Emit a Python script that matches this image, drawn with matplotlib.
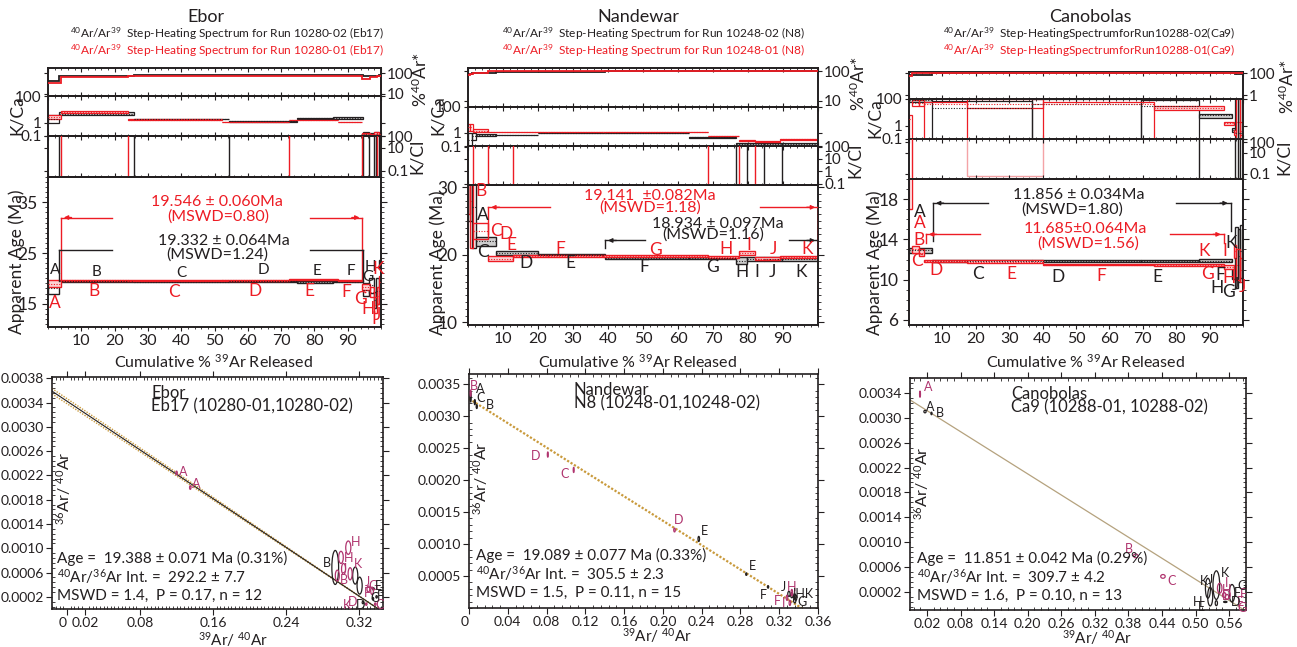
import numpy as np
import matplotlib
matplotlib.use("Agg")
import matplotlib.pyplot as plt
from matplotlib.patches import Rectangle, Ellipse
from matplotlib.ticker import FixedLocator, NullLocator, MultipleLocator, AutoMinorLocator

plt.rcParams['font.family'] = ['Lato', 'DejaVu Sans']
plt.rcParams['mathtext.fontset'] = 'custom'
plt.rcParams['mathtext.rm'] = 'Lato'
plt.rcParams['mathtext.it'] = 'Lato:italic'
plt.rcParams['mathtext.bf'] = 'Lato:bold'

# ======================= DATA =======================
H_, L_ = 1e4, 1e-4   # K/Cl off-scale high / low

# ---------- Ebor (Eb17) ----------
eb_b_edges = [0, 3.3, 25.7, 54.4, 74.8, 85.7, 94.7, 96.5, 97.8, 98.6, 99.3, 100]
eb_b_age = [18.1, 19.4, 19.3, 19.4, 19.3, 19.35, 17.8, 18.6, 15.8, 17.5, 22.8]
eb_b_err = [1.2, 0.12, 0.08, 0.1, 0.12, 0.12, 1.2, 1.5, 1.6, 2.5, 0.8]
eb_b_ar = [42, 72, 80, 80, 80, 80, 75, 72, 70, 75, 80]
eb_b_kca = [2.0, 4.7, 1.9, 1.25, 2.2, 2.3, 0.15, 0.12, 0.12, 0.13, 0.12]
eb_b_kca_lo = [1.0, 3.8, 1.8, 1.2, 2.05, 1.9, 0.11, 0.08, 0.06, 0.07, 0.08]
eb_b_kca_hi = [4.0, 5.8, 2.0, 1.3, 2.35, 2.7, 0.2, 0.18, 0.2, 0.2, 0.16]
eb_b_kcl = [L_, H_, L_, H_, H_, H_, L_, H_, L_, H_, L_]

eb_r_edges = [0, 3.9, 24.1, 52.4, 72.4, 87.0, 94.4, 96.8, 97.9, 98.7, 99.4, 100]
eb_r_age = [18.9, 19.65, 19.55, 19.6, 19.7, 19.55, 18.3, 17.3, 14.8, 16.6, 19.2]
eb_r_err = [0.7, 0.1, 0.08, 0.1, 0.12, 0.12, 0.6, 0.9, 1.6, 1.6, 1.2]
eb_r_ar = [32, 67, 74, 75, 75, 75, 55, 65, 65, 70, 75]
eb_r_kca = [2.6, 6.2, 1.7, 1.1, 1.6, 1.1, 0.14, 0.12, 0.13, 0.14, 0.13]
eb_r_kca_lo = [1.8, 5.2, 1.6, 1.05, 1.5, 1.05, 0.11, 0.09, 0.08, 0.09, 0.09]
eb_r_kca_hi = [3.5, 7.2, 1.8, 1.15, 1.7, 1.15, 0.17, 0.15, 0.19, 0.2, 0.17]
eb_r_kcl = [H_, L_, H_, H_, L_, L_, H_, H_, H_, L_, L_]

eb_plateau_r = dict(age='19.546 ± 0.060Ma', mswd='(MSWD=0.80)', x0=3.9, x1=94.4, y=32.0)
eb_plateau_b = dict(age='19.332 ± 0.064Ma', mswd='(MSWD=1.24)', x0=3.3, x1=94.7, y=25.6)

# ---------- Nandewar (N8) ----------
nd_b_edges = [0, 1.2, 2.3, 8.1, 20.0, 39.2, 63.2, 76.5, 79.8, 84.5, 89.8, 100]
nd_b_age = [34, 27, 21.95, 20.25, 19.95, 19.5, 19.55, 19.1, 19.35, 19.3, 19.3]
nd_b_err = [9, 6, 0.65, 0.3, 0.15, 0.12, 0.15, 0.55, 0.3, 0.3, 0.2]
nd_b_ar = [80, 85, 90, 97, 97, 99, 99, 99, 99, 99, 99]
nd_b_kca = [0.3, 0.6, 0.7, 0.7, 1.0, 1.0, 0.47, 0.14, 0.14, 0.14, 0.14]
nd_b_kca_lo = [0.1, 0.3, 0.6, 0.65, 0.95, 0.95, 0.44, 0.12, 0.12, 0.12, 0.12]
nd_b_kca_hi = [1.0, 1.0, 0.8, 0.75, 1.05, 1.05, 0.5, 0.16, 0.16, 0.16, 0.16]
nd_b_kcl = [H_, H_, H_, H_, H_, H_, H_, L_, H_, L_, H_]

nd_r_edges = [0, 0.7, 1.4, 5.8, 12.8, 22.8, 38.7, 68.6, 77.5, 82.0, 89.0, 100]
nd_r_age = [36, 28, 23.5, 19.4, 19.75, 19.8, 19.8, 19.65, 20.3, 19.4, 19.6]
nd_r_err = [10, 7, 1.2, 0.4, 0.15, 0.1, 0.08, 0.2, 0.3, 0.2, 0.15]
nd_r_ar = [75, 80, 91, 99, 99, 99, 99, 99, 99, 99, 99]
nd_r_kca = [3.0, 3.0, 1.5, 1.25, 1.25, 1.25, 1.25, 0.59, 0.26, 0.21, 0.32]
nd_r_kca_lo = [1.5, 1.5, 1.2, 1.2, 1.2, 1.2, 1.2, 0.55, 0.24, 0.2, 0.3]
nd_r_kca_hi = [5.0, 5.0, 2.0, 1.3, 1.3, 1.3, 1.3, 0.63, 0.28, 0.23, 0.34]
nd_r_kcl = [H_, H_, L_, H_, L_, L_, L_, H_, L_, H_, H_]

nd_plateau_r = dict(age='19.141  ±0.082Ma', mswd='(MSWD=1.18)', x0=5.8, x1=100, y=27.0)
nd_plateau_b = dict(age='18.934 ± 0.097Ma', mswd='(MSWD=1.16)', x0=39.2, x1=100, y=22.1)

# ---------- Canobolas (Ca9) ----------
cb_b_edges = [0, 6.9, 36.7, 69.4, 86.9, 96.6, 97.6, 98.4, 99.2, 100]
cb_b_age = [12.9, 11.88, 11.88, 11.9, 11.9, 10.7, 12.2, 12.4, 12.8]
cb_b_err = [0.25, 0.08, 0.1, 0.1, 0.12, 0.6, 3.0, 2.6, 2.6]
cb_b_ar = [70, 99, 99, 99, 99, 95, 90, 90, 90]
cb_b_kca = [90, 23, 42, 31, 6.0, 0.5, 0.3, 0.3, 0.3]
cb_b_kca_lo = [60, 0.05, 0.05, 0.05, 4.0, 0.35, 0.01, 0.01, 0.01]
cb_b_kca_hi = [110, 75, 100, 90, 8.0, 0.7, 1e3, 1e3, 1e3]
cb_b_kcl = [H_, H_, H_, H_, L_, L_, H_, L_, H_]

cb_r_edges = [0, 0.9, 3.0, 4.5, 17.4, 40.1, 73.5, 94.2, 97.2, 98.0, 99.2, 100]
cb_r_age = [25, 13.0, 12.7, 11.85, 11.8, 11.5, 11.45, 11.25, 12.8, 11.5, 11.0]
cb_r_err = [8, 0.35, 0.3, 0.1, 0.12, 0.08, 0.12, 0.2, 0.6, 1.5, 1.2]
cb_r_ar = [60, 95, 97, 99, 99, 99, 99, 99, 95, 95, 95]
cb_r_kca = [3.0, 50, 50, 40, 42, 42, 23, 1.5, 0.35, 2.0, 0.4]
cb_r_kca_lo = [0.01, 30, 30, 0.05, 20, 0.05, 15, 1.2, 0.2, 0.05, 0.2]
cb_r_kca_hi = [6.0, 80, 80, 56, 100, 56, 30, 2.0, 0.5, 100, 2.0]
cb_r_kcl = [H_, L_, L_, L_, L_, L_, L_, L_, L_, L_, L_]
cb_r_kcl_box = [np.nan, np.nan, np.nan, np.nan, 0.06, np.nan, np.nan, np.nan, np.nan, np.nan, np.nan]

cb_plateau_b = dict(age='11.856 ± 0.034Ma', mswd='(MSWD=1.80)', x0=7.2, x1=96.3, y=17.6)
cb_plateau_r = dict(age='11.685±0.064Ma', mswd='(MSWD=1.56)', x0=5.1, x1=94.2, y=14.5)

# ---------- Isochrons ----------
iso_trapped = [292.2, 305.5, 309.7]          # 40Ar/36Ar intercepts
iso_xint = [0.341, 0.343, 0.571]             # 39Ar/40Ar intercepts

eb_i1_x = [0.120, 0.135, 0.308, 0.300, 0.3028, 0.296, 0.310, 0.330, 0.334, 0.3277, 0.3375]
eb_i1_y = [0.00224, 0.00200, 0.00101, 0.00085, 0.00066, 0.00055, 0.00058, 0.00033, 0.00030, 0.00008, 0.00008]
eb_i1_sx = [0.0008, 0.0008, 0.0028, 0.0025, 0.0022, 0.0022, 0.0022, 0.0015, 0.0015, 0.0008, 0.0008]
eb_i1_sy = [0.00003, 0.00003, 0.00011, 0.00010, 0.00009, 0.00009, 0.00010, 0.00005, 0.00006, 0.00002, 0.00002]
eb_i2_x = [0.2937, 0.3156, 0.3204, 0.324, 0.335, 0.3356, 0.339]
eb_i2_y = [0.000684, 0.00055, 0.000385, 0.000107, 0.00017, 0.00033, 0.0002]
eb_i2_sx = [0.0037, 0.0028, 0.0028, 0.0008, 0.0008, 0.0008, 0.0008]
eb_i2_sy = [0.00028, 0.00014, 0.00014, 0.00002, 0.00002, 0.00002, 0.00002]

nd_i1_x = [0.0017, 0.0813, 0.108, 0.212, 0.328, 0.331, 0.333]
nd_i1_y = [0.00336, 0.0024, 0.00216, 0.00122, 0.00016, 0.00008, 0.00024]
nd_i1_sx = [0.0005, 0.0005, 0.0005, 0.0008, 0.0008, 0.0008, 0.0008]
nd_i1_sy = [0.00005, 0.00004, 0.00004, 0.00003, 0.00004, 0.00004, 0.00005]
nd_i2_x = [0.0017, 0.006, 0.008, 0.237, 0.286, 0.3085, 0.330, 0.333, 0.336, 0.337, 0.336]
nd_i2_y = [0.00330, 0.00322, 0.00315, 0.00108, 0.00053, 0.00033, 0.00022, 0.00020, 0.00018, 0.00016, 0.00012]
nd_i2_sx = [0.0006, 0.0006, 0.0006, 0.0008, 0.0006, 0.0006, 0.0012, 0.0012, 0.0012, 0.0012, 0.0012]
nd_i2_sy = [0.00008, 0.00004, 0.00003, 0.00004, 0.00002, 0.00002, 0.00004, 0.00004, 0.00004, 0.00004, 0.00004]

cb_i1_x = [0.0075, 0.393, 0.4416, 0.543, 0.551, 0.556]
cb_i1_y = [0.00338, 0.00078, 0.00045, 0.00026, 0.00015, 0.00012]
cb_i1_sx = [0.0008, 0.004, 0.004, 0.004, 0.003, 0.003]
cb_i1_sy = [0.00005, 0.00003, 0.00003, 0.00008, 0.00004, 0.00004]
cb_i2_x = [0.0164, 0.028, 0.522, 0.537, 0.526, 0.565, 0.537, 0.553]
cb_i2_y = [0.0031, 0.00307, 0.00026, 0.00031, 0.000125, 0.00018, 0.00002, 0.00004]
cb_i2_sx = [0.002, 0.001, 0.0045, 0.006, 0.0045, 0.005, 0.002, 0.003]
cb_i2_sy = [0.00002, 0.00002, 0.00016, 0.00023, 0.00015, 0.00014, 0.00004, 0.00001]

# ======================= HELPERS =======================
W, H = 1297, 647
fig = plt.figure(figsize=(W / 100, H / 100), dpi=100)
BLK = '#231f20'
GFC = '#cfcfcf'
RED = '#ed1c24'
PNK = '#f4a3a6'
PFC = '#fbd3d5'
MAG = '#b0356f'
TAN = '#c99a3c'


def px_axes(l, t, r, b):
    return fig.add_axes([l / W, 1 - b / H, (r - l) / W, (b - t) / H])


def ftext(x, y, s, **kw):
    kw.setdefault('ha', 'center')
    kw.setdefault('va', 'center')
    return fig.text(x / W, 1 - y / H, s, **kw)


def style_spines(ax, lw=1.4):
    for s in ax.spines.values():
        s.set_linewidth(lw)
        s.set_color(BLK)


def log_axis(ax, ylim, ticks, side):
    ax.set_yscale('log')
    ax.set_ylim(*ylim)
    ax.yaxis.set_major_locator(FixedLocator(ticks))
    ax.yaxis.set_minor_locator(NullLocator())
    ax.set_yticklabels([f'{t:g}' for t in ticks])
    ax.tick_params(axis='y', left=True, right=True, labelleft=(side == 'left'),
                   labelright=(side == 'right'), direction='out', length=3,
                   labelsize=11, pad=1.5, colors=BLK)


def boxes(ax, edges, val, lo, hi, ec, fc, lw=0.9, dotted=True, log=False, fill_max=2.0):
    for i in range(len(val)):
        e0, e1 = edges[i], edges[i + 1]
        size = hi[i] / lo[i] if log else hi[i] - lo[i]
        face = fc if size <= fill_max else 'none'
        ax.add_patch(Rectangle((e0, lo[i]), e1 - e0, hi[i] - lo[i], fc=face, ec=ec, lw=lw, zorder=2))
        if dotted:
            ax.hlines(val[i], e0, e1, colors=ec, linestyles=(0, (1, 1.4)), lw=0.8, zorder=3)


def bracket(ax, p, color, arrows, gap0, gap1, drop0, drop1):
    y = p['y']
    ax.plot([p['x0'], gap0], [y, y], color=color, lw=1.0, zorder=4)
    ax.plot([gap1, p['x1']], [y, y], color=color, lw=1.0, zorder=4)
    ax.plot([p['x0'], p['x0']], [y, drop0], color=color, lw=1.0, zorder=4)
    ax.plot([p['x1'], p['x1']], [y, drop1], color=color, lw=1.0, zorder=4)
    if arrows:
        ax.annotate('', xy=(p['x0'], y), xytext=(p['x0'] + 4, y),
                    arrowprops=dict(arrowstyle='-|>', color=color, lw=1.0, mutation_scale=6), zorder=4)
        ax.annotate('', xy=(p['x1'], y), xytext=(p['x1'] - 4, y),
                    arrowprops=dict(arrowstyle='-|>', color=color, lw=1.0, mutation_scale=6), zorder=4)


def spectrum_column(xl, xr, tops, run_b, run_r, ar_lim, ar_ticks, kcl_lim, kcl_ticks,
                    age_lim, age_ticks):
    t0, t1, t2, t3, t4 = tops
    ax_ar = px_axes(xl, t0, xr, t1)
    ax_kca = px_axes(xl, t1, xr, t2)
    ax_kcl = px_axes(xl, t2, xr, t3)
    ax_age = px_axes(xl, t3, xr, t4)
    for ax in (ax_ar, ax_kca, ax_kcl, ax_age):
        ax.set_xlim(0, 100)
        style_spines(ax)
        ax.set_facecolor('none')
        ax.xaxis.set_major_locator(MultipleLocator(10))
        ax.xaxis.set_minor_locator(MultipleLocator(2))
        ax.tick_params(axis='x', which='both', bottom=True, top=True, direction='in',
                       labelbottom=False, length=3, colors=BLK)
        ax.tick_params(axis='x', which='minor', length=1.5)
    # %40Ar*
    log_axis(ax_ar, ar_lim, ar_ticks, 'right')
    for run, col in ((run_b, BLK), (run_r, RED)):
        ax_ar.stairs(run['ar'], run['edges'], baseline=None, color=col, lw=1.3, zorder=3)
    # K/Ca
    log_axis(ax_kca, (0.1, 100), [0.1, 1, 100], 'left')
    for run, ec, fc in ((run_b, BLK, GFC), (run_r, RED, PFC)):
        boxes(ax_kca, run['edges'], run['kca'], run['kca_lo'], run['kca_hi'], ec, fc, lw=0.9,
              log=True, fill_max=2.5)
    # K/Cl
    log_axis(ax_kcl, kcl_lim, kcl_ticks, 'right')
    for run, col in ((run_b, BLK), (run_r, RED)):
        ax_kcl.stairs(run['kcl'], run['edges'], baseline=None, color=col, lw=1.0, zorder=3)
        if 'kcl_box' in run:
            for i, lo in enumerate(run['kcl_box']):
                if not np.isnan(lo):
                    e0, e1 = run['edges'][i], run['edges'][i + 1]
                    ax_kcl.add_patch(Rectangle((e0, lo), e1 - e0, 1e4, fc='none', ec=PNK, lw=1.0))
    # Age
    ax_age.set_ylim(*age_lim)
    ax_age.yaxis.set_major_locator(FixedLocator(age_ticks))
    ax_age.yaxis.set_minor_locator(MultipleLocator(1))
    ax_age.tick_params(axis='y', which='both', left=True, right=True, direction='out',
                       labelsize=12.5, length=4, colors=BLK)
    ax_age.tick_params(axis='y', which='minor', length=2)
    ax_age.tick_params(axis='x', which='both', labelbottom=True, direction='out', labelsize=11.5,
                       top=False, pad=2)
    ax_age.set_xticks(range(10, 100, 10))
    for run, ec, fc in ((run_b, BLK, GFC), (run_r, RED, PFC)):
        a = np.array(run['age'])
        e = np.array(run['err'])
        boxes(ax_age, run['edges'], a, a - e, a + e, ec, fc, lw=1.0, fill_max=1.5)
    return ax_ar, ax_kca, ax_kcl, ax_age


def run(edges, age, err, ar, kca, lo, hi, kcl, **kw):
    d = dict(edges=edges, age=age, err=err, ar=ar, kca=kca, kca_lo=lo, kca_hi=hi, kcl=kcl)
    d.update(kw)
    return d


def step_labels(ax, labels, color, size=12):
    for s, x, y in labels:
        ax.text(x, y, s, color=color, fontsize=size, ha='center', va='center', zorder=6)


# ======================= TITLES =======================
def titles(cx, name, run2, run1, x_start):
    ftext(cx, 17, name, fontsize=13, color=BLK)
    ftext(x_start, 34, r'$^{40}$Ar/Ar$^{39}$  ' + run2, fontsize=8.6, color=BLK, ha='left')
    ftext(x_start, 51, r'$^{40}$Ar/Ar$^{39}$  ' + run1, fontsize=8.6, color=RED, ha='left')


titles(206, 'Ebor', 'Step-Heating Spectrum for Run 10280-02 (Eb17)',
       'Step-Heating Spectrum for Run 10280-01 (Eb17)', 70)
titles(638, 'Nandewar', 'Step-Heating Spectrum for Run 10248-02 (N8)',
       'Step-Heating Spectrum for Run 10248-01 (N8)', 502)
titles(1090, 'Canobolas', 'Step-HeatingSpectrumforRun10288-02(Ca9)',
       'Step-HeatingSpectrumforRun10288-01(Ca9)', 943)

# ======================= SPECTRA =======================
PFS = 11.5
# Ebor
axs = spectrum_column(48, 381, (68, 96, 136, 177, 327),
                      run(eb_b_edges, eb_b_age, eb_b_err, eb_b_ar, eb_b_kca, eb_b_kca_lo, eb_b_kca_hi, eb_b_kcl),
                      run(eb_r_edges, eb_r_age, eb_r_err, eb_r_ar, eb_r_kca, eb_r_kca_lo, eb_r_kca_hi, eb_r_kcl),
                      (8, 175), [10, 100], (0.03, 100), [0.1, 10, 100], (10.4, 40), [15, 25, 35])
ax = axs[3]
bracket(ax, eb_plateau_r, RED, True, 19.2, 78.7, 19.8, 19.8)
bracket(ax, eb_plateau_b, BLK, False, 19.2, 78.7, 19.5, 19.5)
ax.text(50.8, 35.0, eb_plateau_r['age'], color=RED, fontsize=PFS, ha='center', va='center')
ax.text(51.0, 32.1, eb_plateau_r['mswd'], color=RED, fontsize=PFS, ha='center', va='center')
ax.text(52.7, 27.3, eb_plateau_b['age'], color=BLK, fontsize=PFS, ha='center', va='center')
ax.text(50.8, 24.7, eb_plateau_b['mswd'], color=BLK, fontsize=PFS, ha='center', va='center')
step_labels(ax, [('A', 2.2, 21.6), ('B', 14.5, 21.3), ('C', 40, 21.0), ('D', 64.6, 21.6),
                 ('E', 80.7, 21.4), ('F', 91, 21.4), ('G', 96.1, 20.3), ('H', 96.7, 22.2)], BLK, 11)
step_labels(ax, [('A', 2.2, 15.1), ('B', 13.7, 17.6), ('C', 37.7, 17.3), ('D', 62.2, 17.6),
                 ('E', 78.5, 17.6), ('F', 89.5, 17.3), ('G', 93.7, 15.9), ('H', 96.0, 14.0),
                 ('I', 97.7, 11.9), ('J', 99.0, 12.8), ('K', 99.2, 21.8)], RED, 12.5)

# Nandewar
axs = spectrum_column(468, 818, (68, 107, 146, 185, 325),
                      run(nd_b_edges, nd_b_age, nd_b_err, nd_b_ar, nd_b_kca, nd_b_kca_lo, nd_b_kca_hi, nd_b_kcl),
                      run(nd_r_edges, nd_r_age, nd_r_err, nd_r_ar, nd_r_kca, nd_r_kca_lo, nd_r_kca_hi, nd_r_kcl),
                      (6, 130), [10, 100], (0.08, 110), [0.1, 1, 10, 100], (9.6, 30.3), [10, 20, 30])
ax = axs[3]
bracket(ax, nd_plateau_r, RED, True, 23.3, 83.4, 23.0, 19.8)
bracket(ax, nd_plateau_b, BLK, True, 50.6, 91.8, 21.0, 19.5)
ax.text(52.0, 28.6, nd_plateau_r['age'], color=RED, fontsize=PFS, ha='center', va='center')
ax.text(52.0, 26.9, nd_plateau_r['mswd'], color=RED, fontsize=PFS, ha='center', va='center')
ax.text(71.3, 24.6, nd_plateau_b['age'], color=BLK, fontsize=PFS, ha='center', va='center')
ax.text(70.0, 23.0, nd_plateau_b['mswd'], color=BLK, fontsize=PFS, ha='center', va='center')
step_labels(ax, [('A', 4.2, 25.9), ('C', 4.2, 20.45), ('D', 16.7, 18.7), ('E', 29.2, 18.7),
                 ('F', 50.3, 18.2), ('G', 69.9, 18.2), ('H', 78.4, 17.4), ('I', 82.4, 17.5),
                 ('J', 87.0, 17.5), ('K', 95.3, 17.5)], BLK, 12.5)
step_labels(ax, [('B', 3.7, 29.4), ('C', 8.1, 23.5), ('D', 10.9, 23.0), ('E', 12.4, 21.5),
                 ('F', 26.3, 20.9), ('G', 53.6, 20.7), ('H', 73.8, 20.9), ('I', 80.3, 21.5),
                 ('J', 87.2, 20.9), ('K', 96.8, 20.9)], RED, 12.5)

# Canobolas
axs = spectrum_column(909, 1243, (72, 99, 139, 179, 325),
                      run(cb_b_edges, cb_b_age, cb_b_err, cb_b_ar, cb_b_kca, cb_b_kca_lo, cb_b_kca_hi, cb_b_kcl),
                      run(cb_r_edges, cb_r_age, cb_r_err, cb_r_ar, cb_r_kca, cb_r_kca_lo, cb_r_kca_hi, cb_r_kcl,
                          kcl_box=cb_r_kcl_box),
                      (0.45, 130), [1, 100], (0.03, 200), [0.1, 10, 100], (5.5, 20), [6, 10, 14, 18])
ax = axs[3]
bracket(ax, cb_plateau_b, BLK, True, 23.7, 80.0, 13.8, 14.8)
bracket(ax, cb_plateau_r, RED, True, 21.2, 78.0, 13.6, 13.6)
ax.text(50.8, 18.4, cb_plateau_b['age'], color=BLK, fontsize=PFS, ha='center', va='center')
ax.text(49.0, 17.0, cb_plateau_b['mswd'], color=BLK, fontsize=PFS, ha='center', va='center')
ax.text(52.7, 15.0, cb_plateau_r['age'], color=RED, fontsize=PFS, ha='center', va='center')
ax.text(53.6, 13.6, cb_plateau_r['mswd'], color=RED, fontsize=PFS, ha='center', va='center')
step_labels(ax, [('A', 3.1, 16.7), ('C', 20.7, 10.55), ('D', 44.5, 10.3), ('E', 74.4, 10.3),
                 ('F', 93.1, 10.45), ('G', 95.6, 8.8), ('H', 92.1, 9.2), ('J', 97.6, 9.5),
                 ('K', 96.3, 13.6)], BLK, 12.5)
step_labels(ax, [('A', 3.1, 15.6), ('B', 3.0, 13.9), ('C', 2.5, 11.9), ('D', 8.1, 11.0),
                 ('E', 30.7, 10.6), ('F', 57.6, 10.4), ('G', 89.5, 10.6), ('H', 95.7, 10.2),
                 ('I', 94.6, 12.8), ('J', 99.8, 9.3), ('K', 88.3, 12.8)], RED, 12.5)

# side labels of the spectra
for xl, yk, ya, yar, ykcl, xr_lab in ((17, 115, 262, 80, 156, 420),
                                      (438, 115, 263, 84, 160, 858),
                                      (875, 118, 263, 87, 157, 1287)):
    ftext(xl, yk, 'K/Ca', fontsize=12.5, rotation=90, color=BLK)
    ftext(xl, ya, 'Apparent Age (Ma)', fontsize=12.5, rotation=90, color=BLK)
    ftext(xr_lab, yar, r'%$^{40}$Ar*', fontsize=12.5, rotation=90, color=BLK)
    ftext(xr_lab - 3, ykcl, 'K/Cl', fontsize=12.5, rotation=90, color=BLK)

for cx in (213, 637, 1085):
    ftext(cx, 362, r'Cumulative % $^{39}$Ar Released', fontsize=11.5, color=BLK)


# ======================= ISOCHRONS =======================
def isochron(box, xlim, ylim, xticks, yticks, k, pts1, pts2, lab1, lab2, title, sub, stats,
             txt_xy, line_style, ylab_xy, xlab_xy):
    ax = px_axes(*box)
    style_spines(ax, 1.2)
    ax.set_xlim(*xlim)
    ax.set_ylim(*ylim)
    ax.xaxis.set_major_locator(FixedLocator(xticks))
    ax.set_xticklabels(['0' if t == 0 else f'{t:.2f}' for t in xticks])
    ax.yaxis.set_major_locator(FixedLocator(yticks))
    ax.set_yticklabels([f'{t:.4f}' for t in yticks])
    ax.xaxis.set_minor_locator(AutoMinorLocator(5))
    ax.yaxis.set_minor_locator(AutoMinorLocator(5))
    ax.tick_params(which='both', top=True, right=True, direction='in', colors=BLK)
    ax.tick_params(which='major', length=4, labelsize=10)
    ax.tick_params(which='minor', length=2)
    ax.tick_params(axis='both', which='major', direction='out', pad=2)
    for lab, t in zip(ax.get_xticklabels(), xticks):
        if t == 0:
            lab.set_ha('right')
    b0 = 1.0 / iso_trapped[k]
    xx = np.linspace(xlim[0], xlim[1], 200)
    yy = b0 * (1 - xx / iso_xint[k])
    if line_style == 'env':
        ax.plot(xx, yy * 1.012, color=TAN, lw=1.0, ls=(0, (1, 1)))
        ax.plot(xx, yy * 0.988, color=TAN, lw=1.0, ls=(0, (1, 1)))
        ax.plot(xx, yy, color=BLK, lw=0.8)
    elif line_style == 'dot':
        ax.plot(xx, yy, color=TAN, lw=1.6, ls=(0, (1, 0.8)))
    else:
        ax.plot(xx, yy, color='#b5a27e', lw=0.9)
    for (xs, ys, sxs, sys_), col in ((pts2, BLK), (pts1, MAG)):
        for x, y, sx, sy in zip(xs, ys, sxs, sys_):
            ax.add_patch(Ellipse((x, y), 2 * sx, 2 * sy, fc='none', ec=col, lw=0.9, zorder=4))
    for labs, col in ((lab1, MAG), (lab2, BLK)):
        for s, x, y in labs:
            ax.text(x, y, s, color=col, fontsize=9, ha='center', va='center', zorder=5)
    ax.text(0.30, 0.965, title, transform=ax.transAxes, fontsize=12, color=BLK, va='top', ha='left')
    ax.text(0.30, 0.91, sub, transform=ax.transAxes, fontsize=12, color=BLK, va='top', ha='left')
    tx, ty = txt_xy
    for i, s in enumerate(stats):
        ftext(tx, ty + 19 * i, s, fontsize=11, color=BLK, ha='left')
    ftext(ylab_xy[0], ylab_xy[1], r'$^{36}$Ar/ $^{40}$Ar', fontsize=11.5, rotation=90, color=BLK)
    ftext(xlab_xy[0], xlab_xy[1], r'$^{39}$Ar/ $^{40}$Ar', fontsize=11, color=BLK)
    return ax


isochron((52, 377, 383, 609), (-0.0164, 0.346), (0, 0.00382),
         [0, 0.02, 0.08, 0.16, 0.24, 0.32], np.arange(0.0002, 0.0039, 0.0004), 0,
         (eb_i1_x, eb_i1_y, eb_i1_sx, eb_i1_sy), (eb_i2_x, eb_i2_y, eb_i2_sx, eb_i2_sy),
         [('A', 0.1275, 0.00225), ('A', 0.1414, 0.00206), ('H', 0.3156, 0.0011), ('H', 0.308, 0.00084),
          ('J', 0.304, 0.00066), ('B', 0.3028, 0.00048), ('K', 0.319, 0.00074), ('J', 0.3295, 0.00044),
          ('G', 0.335, 0.00038), ('F', 0.3285, 0.00026), ('K', 0.3065, 0.00006), ('D', 0.313, 0.00012),
          ('C', 0.342, 0.00007)],
         [('B', 0.2846, 0.00076), ('D', 0.321, 0.00006), ('C', 0.3364, 0.00018), ('F', 0.343, 0.00022),
          ('E', 0.341, 0.00038)],
         'Ebor', 'Eb17 (10280-01,10280-02)',
         ['Age =  19.388 ± 0.071 Ma (0.31%)', r'$^{40}$Ar/$^{36}$Ar Int. =  292.2 ± 7.7',
          'MSWD = 1.4,  P = 0.17, n = 12'], (57, 558), 'env', (64, 488), (233, 640))

isochron((469, 374, 818, 608), (0, 0.36), (0, 0.00366),
         list(np.round(np.arange(0, 0.361, 0.04), 2)), np.arange(0.0005, 0.0036, 0.0005), 1,
         (nd_i1_x, nd_i1_y, nd_i1_sx, nd_i1_sy), (nd_i2_x, nd_i2_y, nd_i2_sx, nd_i2_sy),
         [('B', 0.0052, 0.00347), ('D', 0.0692, 0.00237), ('C', 0.0986, 0.0021), ('D', 0.216, 0.00138),
          ('H', 0.3327, 0.00033), ('F', 0.318, 0.00011), ('I', 0.3244, 0.00008)],
         [('A', 0.0111, 0.00342), ('C', 0.0121, 0.00328), ('B', 0.0215, 0.00318), ('E', 0.2428, 0.0012),
          ('E', 0.292, 0.00065), ('F', 0.3033, 0.0002), ('J', 0.3244, 0.00033), ('IHK', 0.3445, 0.00022),
          ('G', 0.343, 0.0001)],
         'Nandewar', 'N8 (10248-01,10248-02)',
         ['Age =  19.089 ± 0.077 Ma (0.33%)', r'$^{40}$Ar/$^{36}$Ar Int. =  305.5 ± 2.3',
          'MSWD = 1.5,  P = 0.11, n = 15'], (476, 555), 'dot', (481, 478), (657, 636))

isochron((910, 378, 1246, 610), (-0.0104, 0.590), (-0.00009, 0.00364),
         list(np.round(np.arange(0.02, 0.57, 0.06), 2)), np.arange(0.0002, 0.0035, 0.0004), 2,
         (cb_i1_x, cb_i1_y, cb_i1_sx, cb_i1_sy), (cb_i2_x, cb_i2_y, cb_i2_sx, cb_i2_sy),
         [('A', 0.0224, 0.00349), ('B', 0.381, 0.00089), ('C', 0.4577, 0.00038), ('I', 0.5544, 0.00035),
          ('F', 0.585, 0.00016), ('H', 0.556, 0.00023), ('D', 0.556, 0.00014), ('E', 0.58, 0.00004),
          ('G', 0.583, -0.00006)],
         [('A', 0.0254, 0.00317), ('B', 0.0433, 0.00308), ('K', 0.5155, 0.00037), ('J', 0.526, 0.0004),
          ('K', 0.552, 0.0005), ('G', 0.583, 0.0003), ('F', 0.574, 0.00018), ('D', 0.571, 0.00004),
          ('H', 0.5037, 0.00004), ('E', 0.511, -0.00004)],
         'Canobolas', 'Ca9 (10288-01, 10288-02)',
         ['Age =  11.851 ± 0.042 Ma (0.29%)', r'$^{40}$Ar/$^{36}$Ar Int. =  309.7 ± 4.2',
          'MSWD = 1.6,  P = 0.10, n = 13'], (917, 558), 'plain', (922, 483), (1097, 638))

fig.savefig('out.png', dpi=100)
